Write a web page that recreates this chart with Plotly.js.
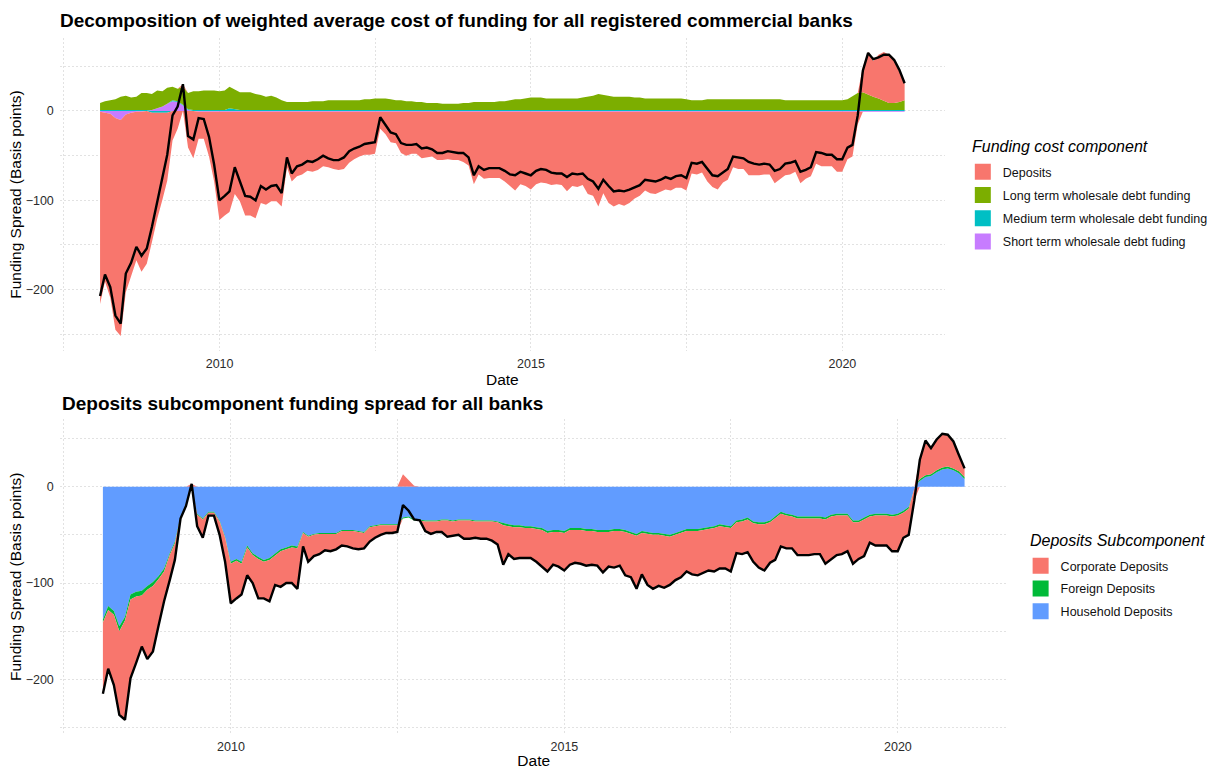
<!DOCTYPE html>
<html>
<head>
<meta charset="utf-8">
<script src="https://cdn.plot.ly/plotly-3.0.1.min.js"></script>
<style>
  html, body { margin: 0; padding: 0; background: #ffffff; }
  #chart { width: 1213px; height: 769px; }
</style>
</head>
<body>
<div id="chart"></div>
<script>
// ---------------- DATA (month-end observations, basis points) ----------------
const dates = [
  "2008-01-31","2008-02-29","2008-03-31","2008-04-30","2008-05-31","2008-06-30","2008-07-31","2008-08-31","2008-09-30","2008-10-31","2008-11-30","2008-12-31",
  "2009-01-31","2009-02-28","2009-03-31","2009-04-30","2009-05-31","2009-06-30","2009-07-31","2009-08-31","2009-09-30","2009-10-31","2009-11-30","2009-12-31",
  "2010-01-31","2010-02-28","2010-03-31","2010-04-30","2010-05-31","2010-06-30","2010-07-31","2010-08-31","2010-09-30","2010-10-31","2010-11-30","2010-12-31",
  "2011-01-31","2011-02-28","2011-03-31","2011-04-30","2011-05-31","2011-06-30","2011-07-31","2011-08-31","2011-09-30","2011-10-31","2011-11-30","2011-12-31",
  "2012-01-31","2012-02-29","2012-03-31","2012-04-30","2012-05-31","2012-06-30","2012-07-31","2012-08-31","2012-09-30","2012-10-31","2012-11-30","2012-12-31",
  "2013-01-31","2013-02-28","2013-03-31","2013-04-30","2013-05-31","2013-06-30","2013-07-31","2013-08-31","2013-09-30","2013-10-31","2013-11-30","2013-12-31",
  "2014-01-31","2014-02-28","2014-03-31","2014-04-30","2014-05-31","2014-06-30","2014-07-31","2014-08-31","2014-09-30","2014-10-31","2014-11-30","2014-12-31",
  "2015-01-31","2015-02-28","2015-03-31","2015-04-30","2015-05-31","2015-06-30","2015-07-31","2015-08-31","2015-09-30","2015-10-31","2015-11-30","2015-12-31",
  "2016-01-31","2016-02-29","2016-03-31","2016-04-30","2016-05-31","2016-06-30","2016-07-31","2016-08-31","2016-09-30","2016-10-31","2016-11-30","2016-12-31",
  "2017-01-31","2017-02-28","2017-03-31","2017-04-30","2017-05-31","2017-06-30","2017-07-31","2017-08-31","2017-09-30","2017-10-31","2017-11-30","2017-12-31",
  "2018-01-31","2018-02-28","2018-03-31","2018-04-30","2018-05-31","2018-06-30","2018-07-31","2018-08-31","2018-09-30","2018-10-31","2018-11-30","2018-12-31",
  "2019-01-31","2019-02-28","2019-03-31","2019-04-30","2019-05-31","2019-06-30","2019-07-31","2019-08-31","2019-09-30","2019-10-31","2019-11-30","2019-12-31",
  "2020-01-31","2020-02-29","2020-03-31","2020-04-30","2020-05-31","2020-06-30","2020-07-31","2020-08-31","2020-09-30","2020-10-31","2020-11-30","2020-12-31"
];

// Total weighted average funding spread (black line, top panel)
const totalSpread = [
  -207,-183,-197,-229,-238,-182,-170,-152,-162,-154,-130,-103,
  -77,-49,-5,5,30,-28,-32,-8,-9,-29,-60,-100,
  -95,-90,-63,-79,-95,-96,-100,-84,-88,-84,-83,-92,
  -52,-70,-62,-60,-56,-57,-54,-50,-53,-55,-55,-52,
  -45,-42,-40,-37,-36,-35,-7,-16,-24,-26,-36,-38,
  -38,-37,-42,-41,-43,-47,-47,-45,-46,-47,-47,-52,
  -72,-62,-66,-64,-64,-64,-67,-71,-72,-68,-70,-72,
  -67,-65,-66,-69,-70,-70,-74,-70,-71,-70,-76,-79,
  -87,-77,-84,-90,-89,-90,-88,-85,-83,-77,-78,-79,
  -77,-74,-76,-73,-72,-75,-58,-59,-57,-64,-72,-73,
  -69,-65,-51,-52,-53,-57,-59,-60,-59,-60,-67,-65,
  -59,-58,-56,-68,-66,-63,-46,-47,-49,-49,-54,-54,
  -41,-38,-5,45,65,58,60,63,63,57,46,31
];

// Deposits component (top panel red area; black line of bottom panel)
const depositsSpread = [
  -215,-189,-206,-237,-242,-199,-183,-166,-179,-171,-145,-119,
  -97,-76,-33,-20,3,-41,-53,-30,-30,-50,-78,-121,
  -116,-112,-92,-100,-116,-116,-119,-102,-104,-100,-100,-106,
  -62,-78,-72,-70,-66,-67,-65,-61,-62,-64,-65,-64,
  -57,-53,-50,-48,-48,-47,-19,-25,-34,-35,-46,-49,
  -47,-47,-52,-51,-50,-54,-54,-53,-54,-54,-56,-60,
  -81,-70,-75,-74,-74,-74,-78,-83,-88,-81,-83,-87,
  -81,-79,-80,-82,-81,-82,-89,-83,-84,-82,-92,-94,
  -106,-91,-102,-106,-103,-105,-102,-97,-94,-88,-91,-92,
  -89,-87,-88,-85,-85,-88,-69,-70,-68,-78,-84,-87,
  -79,-76,-62,-64,-64,-71,-71,-71,-70,-70,-80,-75,
  -71,-70,-67,-80,-75,-72,-58,-61,-61,-61,-67,-67,
  -53,-50,-14,28,48,40,49,55,54,47,33,19
];

const longTermWholesale = [
  8,10,11,12,15,16,14,15,19,19,18,20,
  17,18,15,14,20,18,21,21,22,22,22,21,
  22,24,22,20,20,20,18,17,15,16,14,11,
  9,9,9,9,9,10,10,10,11,11,11,11,
  11,11,11,12,12,13,13,13,12,11,11,10,
  10,9,9,8,8,8,7,7,7,7,8,8,
  9,9,9,9,9,10,10,11,12,12,13,14,
  14,14,13,13,13,13,13,13,13,14,15,16,
  18,17,16,15,15,15,15,14,14,13,13,13,
  13,13,13,13,13,12,11,11,11,12,12,12,
  12,12,12,12,12,12,12,12,12,12,12,12,
  11,11,11,11,11,11,11,11,11,11,11,11,
  12,15,19,20,17,15,13,10,8,8,9,11
];

const mediumTermWholesale = [
  1,1,1,1,1,1,1,1,1,1,-2,-2,
  -2,-2,1,1,1,1,1,1,1,1,1,1,
  1,3,2,1,1,1,1,1,1,1,1,1,
  1,1,1,1,1,1,1,1,1,1,1,1,
  1,1,1,1,1,1,1,1,1,1,1,1,
  1,1,1,1,1,1,1,1,1,1,1,1,
  1,1,1,1,1,1,1,1,1,1,1,1,
  1,1,1,1,1,1,1,1,1,1,1,1,
  1,1,1,1,1,1,1,1,1,1,1,1,
  1,1,1,1,1,1,1,1,1,1,1,1,
  1,1,1,1,1,1,1,1,1,1,1,1,
  1,1,1,1,1,1,1,1,1,1,1,1,
  1,1,1,1,1,1,1,1,1,1,1,1
];

const shortTermWholesale = [
  -1,-2,-3,-8,-10,-4,-2,-1,-1,0,1,3,
  5,8,11,10,6,1,0,-1,-1,-1,-1,-1,
  -1,-1,-1,-1,-1,-1,-1,-1,-1,-1,-1,-1,
  -1,-1,-1,-1,-1,-1,-1,-1,-1,-1,-1,-1,
  -1,-1,-1,-1,-1,-1,-1,-1,-1,-1,-1,-1,
  -1,-1,-1,-1,-1,-1,-1,-1,-1,-1,-1,-1,
  -1,-1,-1,-1,-1,-1,-1,-1,-1,-1,-1,-1,
  -1,-1,-1,-1,-1,-1,-1,-1,-1,-1,-1,-1,
  -1,-1,-1,-1,-1,-1,-1,-1,-1,-1,-1,-1,
  -1,-1,-1,-1,-1,-1,-1,-1,-1,-1,-1,-1,
  -1,-1,-1,-1,-1,-1,-1,-1,-1,-1,-1,-1,
  -1,-1,-1,-1,-1,-1,-1,-1,-1,-1,-1,-1,
  -1,-1,-1,-1,-1,-1,-1,-1,-1,-1,-1,-1
];

const householdDeposits = [
  -138,-124,-129,-145,-135,-112,-109,-108,-103,-99,-93,-85,
  -69,-57,-31,-18,0,-28,-33,-26,-26,-35,-52,-78,
  -75,-78,-61,-69,-73,-76,-74,-69,-65,-63,-61,-62,
  -47,-51,-49,-48,-48,-48,-48,-45,-45,-45,-46,-47,
  -41,-40,-39,-39,-39,-39,-32,-31,-34,-34,-35,-35,
  -35,-34,-34,-35,-34,-34,-34,-35,-35,-35,-35,-36,
  -38,-39,-40,-40,-41,-41,-42,-43,-46,-45,-45,-46,
  -43,-43,-43,-44,-44,-45,-45,-45,-44,-44,-45,-47,
  -49,-46,-47,-48,-48,-49,-50,-48,-46,-44,-44,-44,
  -43,-42,-41,-39,-40,-41,-35,-34,-32,-36,-37,-37,
  -35,-31,-26,-28,-29,-31,-31,-31,-31,-31,-32,-29,
  -28,-28,-28,-35,-35,-32,-29,-28,-28,-28,-29,-28,
  -25,-21,-2,6,10,11,15,18,19,17,14,8
];

const foreignDeposits = [
  -3,-4,-4,-5,-4,-5,-5,-5,-4,-4,-3,-3,
  -2,-2,-1,-1,0,-1,-1,-1,-1,-1,-1,-2,
  -2,-2,-2,-2,-2,-2,-2,-2,-2,-2,-2,-2,
  -1,-1,-1,-1,-1,-1,-1,-1,-1,-1,-1,-1,
  -1,-1,-1,-1,-1,-1,-1,-1,-1,-1,-1,-1,
  -1,-1,-1,-1,-1,-1,-1,-1,-1,-1,-1,-1,
  -2,-2,-2,-2,-2,-2,-2,-2,-2,-2,-2,-2,
  -2,-2,-2,-2,-2,-2,-2,-2,-2,-2,-2,-2,
  -2,-2,-2,-2,-2,-2,-2,-2,-2,-2,-2,-2,
  -2,-2,-2,-2,-2,-2,-2,-2,-2,-2,-2,-2,
  -2,-2,-2,-2,-2,-2,-2,-2,-2,-2,-2,-2,
  -2,-2,-2,-2,-2,-2,-2,-2,-2,-2,-2,-2,
  -2,-2,0,2,2,2,2,2,2,2,2,2
];

const corporateDeposits = [
  -74,-61,-73,-87,-103,-82,-69,-53,-72,-68,-49,-31,
  -26,-17,-1,-1,3,-12,-19,-3,-3,-14,-25,-41,
  -39,-32,-29,-29,-41,-38,-43,-31,-37,-35,-37,-42,
  -14,-26,-22,-21,-17,-18,-16,-15,-16,-18,-18,-16,
  -15,-12,-10,-8,-8,-7,13,7,1,0,-10,-13,
  -11,-12,-17,-15,-15,-19,-19,-17,-18,-18,-20,-23,
  -41,-29,-33,-32,-31,-31,-34,-38,-40,-34,-36,-39,
  -36,-34,-35,-36,-35,-35,-42,-36,-38,-36,-45,-45,
  -55,-43,-53,-56,-53,-54,-50,-47,-46,-42,-45,-46,
  -44,-43,-45,-44,-43,-45,-32,-34,-34,-40,-45,-48,
  -42,-43,-34,-34,-33,-38,-38,-38,-37,-37,-46,-44,
  -41,-40,-37,-43,-38,-38,-27,-31,-31,-31,-36,-37,
  -26,-27,-12,20,36,27,32,35,33,28,17,9
];

// Legend titles and labels (as in the original, including its spelling)
const topLegendTitle = "Funding cost component";
const bottomLegendTitle = "Deposits Subcomponent";
const topLabels = ["Deposits", "Long term wholesale debt funding", "Medium term wholesale debt funding", "Short term wholesale debt fuding"];
const bottomLabels = ["Corporate Deposits", "Foreign Deposits", "Household Deposits"];

// ---------------- STYLE ----------------
const FONT = "Liberation Sans, Arial, Helvetica, sans-serif";
const COL = {
  deposits: "#F8766D", long: "#7CAE00", medium: "#00BFC4", short: "#C77CFF",
  corporate: "#F8766D", foreign: "#00BA38", household: "#619CFF"
};

// ggplot-like stacking: positives and negatives stack separately from zero
const posPart = a => a.map(v => (v > 0 ? v : 0));
const negPart = a => a.map(v => (v < 0 ? v : 0));

function areaPair(y, color, xa, ya, grp) {
  const base = {
    type: "scatter", mode: "lines", x: dates, xaxis: xa, yaxis: ya,
    line: { width: 0, color: color }, fillcolor: color,
    showlegend: false, hoverinfo: "skip"
  };
  return [
    Object.assign({}, base, { y: posPart(y), stackgroup: grp + "pos" }),
    Object.assign({}, base, { y: negPart(y), stackgroup: grp + "neg" })
  ];
}

function legendKey(name, color, legendId) {
  return {
    type: "scatter", mode: "markers", x: [null], y: [null], name: name,
    xaxis: legendId === "legend" ? "x" : "x2", yaxis: legendId === "legend" ? "y" : "y2",
    marker: { symbol: "square", size: 16, color: color },
    legend: legendId, legendgroup: name, showlegend: true, hoverinfo: "skip"
  };
}

// order from zero outward (ggplot stacks the first factor level furthest out)
const traces = [].concat(
  areaPair(shortTermWholesale, COL.short, "x", "y", "top"),
  areaPair(mediumTermWholesale, COL.medium, "x", "y", "top"),
  areaPair(longTermWholesale, COL.long, "x", "y", "top"),
  areaPair(depositsSpread, COL.deposits, "x", "y", "top"),
  [{
    type: "scatter", mode: "lines", x: dates, y: totalSpread, xaxis: "x", yaxis: "y",
    line: { color: "#000000", width: 2.4 }, showlegend: false, hoverinfo: "skip"
  }],
  areaPair(householdDeposits, COL.household, "x2", "y2", "bot"),
  areaPair(foreignDeposits, COL.foreign, "x2", "y2", "bot"),
  areaPair(corporateDeposits, COL.corporate, "x2", "y2", "bot"),
  [{
    type: "scatter", mode: "lines", x: dates, y: depositsSpread, xaxis: "x2", yaxis: "y2",
    line: { color: "#000000", width: 2.4 }, showlegend: false, hoverinfo: "skip"
  }],
  [
    legendKey(topLabels[0], COL.deposits, "legend"),
    legendKey(topLabels[1], COL.long, "legend"),
    legendKey(topLabels[2], COL.medium, "legend"),
    legendKey(topLabels[3], COL.short, "legend"),
    legendKey(bottomLabels[0], COL.corporate, "legend2"),
    legendKey(bottomLabels[1], COL.foreign, "legend2"),
    legendKey(bottomLabels[2], COL.household, "legend2")
  ]
);

const W = 1213, H = 769;
const GRID = "#e2e2e2";
const DASH = "2px,2px";

function xAxis(domain, anchor) {
  return {
    type: "date", domain: domain, anchor: anchor,
    range: ["2007-06-09", "2021-08-24"],
    tick0: "2010-01-01", dtick: "M60", tickformat: "%Y",
    showgrid: true, gridcolor: GRID, griddash: DASH, gridwidth: 1,
    minor: { tick0: "2010-01-01", dtick: "M30", showgrid: true, gridcolor: GRID, griddash: DASH, gridwidth: 1 },
    zeroline: false, showline: false, ticks: "",
    ticklabelstandoff: 3,
    tickfont: { family: FONT, size: 12.5, color: "#2b2b2b" },
    title: { text: "Date", font: { family: FONT, size: 15.5, color: "#000000" }, standoff: 2 },
    fixedrange: true
  };
}
function yAxis(domain, anchor, range) {
  return {
    domain: domain, anchor: anchor, range: range,
    tick0: 0, dtick: 100,
    showgrid: true, gridcolor: GRID, griddash: DASH, gridwidth: 1,
    minor: { tick0: 0, dtick: 50, showgrid: true, gridcolor: GRID, griddash: DASH, gridwidth: 1 },
    zeroline: false, showline: false, ticks: "",
    ticklabelstandoff: 5,
    tickfont: { family: FONT, size: 12.5, color: "#2b2b2b" },
    title: { text: "Funding Spread (Basis points)", font: { family: FONT, size: 15.5, color: "#000000" }, standoff: 0 },
    fixedrange: true
  };
}

const legendTitleFont = { family: FONT, size: 16, style: "italic", color: "#000000" };

const layout = {
  width: W, height: H,
  margin: { l: 0, r: 0, t: 0, b: 0 },
  paper_bgcolor: "#ffffff", plot_bgcolor: "#ffffff",
  font: { family: FONT, color: "#000000" },
  title: {
    text: "Decomposition of weighted average cost of funding for all registered commercial banks",
    font: { family: FONT, size: 19, weight: 700, color: "#000000" },
    xref: "container", yref: "container", x: 60 / W, xanchor: "left", y: 1 - 20 / H, yanchor: "middle"
  },
  annotations: [
    {
      text: "Deposits subcomponent funding spread for all banks",
      font: { family: FONT, size: 19, weight: 700, color: "#000000" },
      xref: "paper", yref: "paper", x: 60 / W, xanchor: "left", y: 1 - 403 / H, yanchor: "middle",
      showarrow: false
    },
    {
      text: topLegendTitle, font: legendTitleFont,
      xref: "paper", yref: "paper", x: 974 / W, xanchor: "left", y: 1 - 146 / H, yanchor: "middle",
      showarrow: false, xshift: -1
    },
    {
      text: bottomLegendTitle, font: legendTitleFont,
      xref: "paper", yref: "paper", x: 1032 / W, xanchor: "left", y: 1 - 540 / H, yanchor: "middle",
      showarrow: false, xshift: -1
    }
  ],
  xaxis: xAxis([60 / W, 948 / W], "y"),
  yaxis: yAxis([1 - 351.3 / H, 1 - 37.7 / H], "x", [-269, 82]),
  xaxis2: xAxis([60 / W, 1011 / W], "y2"),
  yaxis2: yAxis([1 - 734.2 / H, 1 - 419.3 / H], "x2", [-257, 70]),
  legend: {
    x: 966 / W, y: 1 - 157 / H, xanchor: "left", yanchor: "top",
    bgcolor: "rgba(0,0,0,0)", borderwidth: 0, tracegroupgap: 4, itemwidth: 30,
    traceorder: "grouped",
    font: { family: FONT, size: 12.5, color: "#111111" }
  },
  legend2: {
    x: 1024 / W, y: 1 - 551 / H, xanchor: "left", yanchor: "top",
    bgcolor: "rgba(0,0,0,0)", borderwidth: 0, tracegroupgap: 3.5, itemwidth: 30,
    traceorder: "grouped",
    font: { family: FONT, size: 12.5, color: "#111111" }
  },
  hovermode: false
};

Plotly.newPlot("chart", traces, layout, { displayModeBar: false, staticPlot: true });
</script>
</body>
</html>
